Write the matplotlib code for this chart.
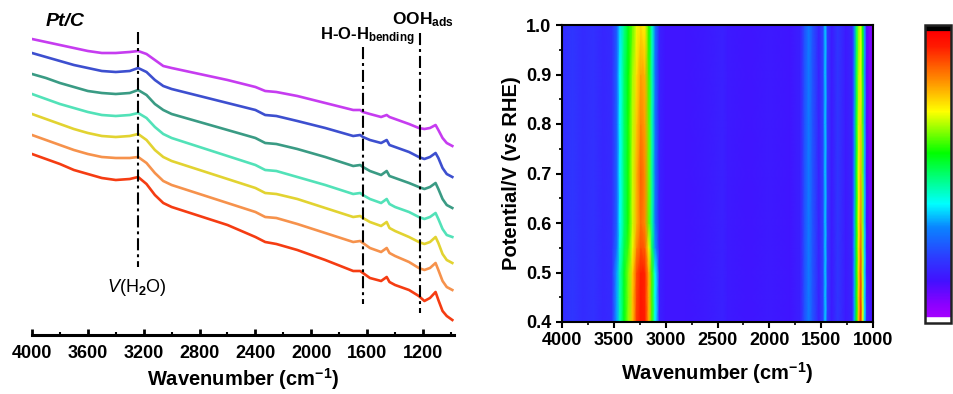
import numpy as np
import matplotlib
matplotlib.use("Agg")
import matplotlib.pyplot as plt
from matplotlib.colors import LinearSegmentedColormap
from matplotlib.ticker import MultipleLocator

plt.rcParams['font.family'] = ['Liberation Sans', 'DejaVu Sans']
plt.rcParams['font.weight'] = 'bold'
plt.rcParams['mathtext.fontset'] = 'custom'
plt.rcParams['mathtext.rm'] = 'Liberation Sans'
plt.rcParams['mathtext.it'] = 'Liberation Sans:italic:regular'
plt.rcParams['mathtext.bf'] = 'Liberation Sans:bold'

# ---- left panel: stacked spectra (y values read in picture units, top = small) ----
wn = [4000, 3900, 3800, 3700, 3600, 3500, 3400, 3300, 3240, 3180, 3120, 3060, 3000,
      2800, 2600, 2400, 2330, 2250, 2100, 1900, 1700, 1650, 1630, 1580, 1500, 1460,
      1440, 1400, 1300, 1230, 1190, 1150, 1110, 1090, 1060, 1030, 990]

purple = [39, 42, 45, 48, 51, 53, 53, 52, 51, 54, 60, 66, 68, 74, 80, 87, 91, 92, 96,
          103, 110, 110, 112, 114, 117, 115, 117, 119, 124, 128, 129, 128, 125, 130, 138, 143, 146]
blue = [53, 57, 61, 65, 68, 71, 72, 71, 68, 72, 80, 86, 89, 96, 103, 110, 115, 116, 121,
        128, 136, 135, 137, 140, 143, 140, 145, 147, 152, 157, 159, 157, 153, 158, 168, 174, 177]
teal = [74, 78, 83, 87, 91, 93, 94, 93, 90, 95, 104, 110, 114, 122, 130, 138, 143, 144, 149,
        157, 166, 165, 167, 171, 175, 171, 176, 178, 183, 187, 189, 187, 183, 189, 199, 205, 208]
aqua = [94, 99, 104, 108, 112, 115, 116, 115, 113, 118, 127, 134, 138, 147, 156, 165, 170, 171, 177,
        185, 194, 193, 195, 199, 203, 199, 204, 207, 212, 217, 219, 217, 213, 219, 229, 235, 237]
yellow = [114, 119, 124, 129, 133, 136, 137, 136, 134, 140, 150, 157, 161, 170, 179, 188, 193, 194, 199,
          208, 217, 216, 218, 222, 226, 222, 228, 231, 237, 242, 244, 242, 237, 243, 254, 260, 263]
orange = [135, 140, 145, 150, 154, 157, 158, 158, 157, 163, 173, 181, 185, 194, 203, 212, 217, 218, 224,
          233, 242, 241, 243, 248, 252, 248, 253, 256, 262, 268, 270, 268, 263, 270, 281, 287, 290]
red = [154, 159, 164, 170, 174, 178, 180, 179, 177, 184, 195, 203, 207, 216, 225, 237, 242, 244, 250,
       260, 271, 271, 273, 278, 281, 277, 282, 285, 290, 296, 301, 298, 292, 300, 311, 316, 320]

curves = [purple, blue, teal, aqua, yellow, orange, red]
curve_colors = ['#c63cf0', '#3d4fcf', '#3a9b84', '#52e2b8', '#e2d331', '#f6924c', '#f53c12']

# marker lines: (wavenumber, top, bottom)
marker_wn = [3240, 1632, 1222]
marker_top = [32, 47, 33]
marker_bottom = [267, 304, 313]

# ---- right panel: contour map ----
map_wn = [4000, 3900, 3800, 3700, 3600, 3520, 3470, 3440, 3400, 3360, 3320, 3280, 3240, 3200,
          3160, 3130, 3100, 3060, 3000, 2800, 2600, 2450, 2400, 2200, 2000, 1800, 1700, 1660,
          1620, 1580, 1520, 1480, 1460, 1440, 1400, 1340, 1260, 1200, 1180, 1160, 1140, 1120,
          1100, 1080, 1060, 1030, 1000]
potential = [0.4, 0.45, 0.5, 0.55, 0.6, 0.7, 0.8, 0.9, 1.0]

bg_left = [.19, .21, .19, .20, .18, .19]
bg_mid = [.17, .15, .15, .16, .17, .16, .15, .16, .15, .17, .25, .31, .25, .17, .24, .37, .22, .16, .21, .16, .18]
band_3250 = [
    [.34, .45, .56, .65, .76, .90, .94, .93, .78, .60, .40],   # 0.40
    [.34, .45, .55, .64, .76, .89, .94, .92, .78, .60, .40],   # 0.45
    [.34, .45, .55, .64, .75, .88, .93, .92, .78, .60, .40],   # 0.50
    [.30, .42, .52, .60, .70, .82, .88, .86, .70, .50, .33],   # 0.55
    [.28, .40, .50, .58, .68, .78, .85, .82, .62, .46, .30],   # 0.60
    [.28, .40, .50, .58, .68, .78, .86, .82, .63, .46, .30],   # 0.70
    [.28, .40, .50, .58, .67, .76, .83, .80, .62, .45, .30],   # 0.80
    [.28, .40, .50, .57, .66, .74, .80, .78, .60, .45, .30],   # 0.90
    [.27, .38, .48, .56, .62, .70, .74, .72, .58, .44, .30],   # 1.00
]
band_1130 = [
    [.34, .56, .76, .92, .70, .38, .18, .16, .14],
    [.34, .56, .75, .90, .69, .38, .17, .15, .13],
    [.34, .56, .74, .88, .68, .38, .16, .14, .12],
    [.34, .56, .73, .85, .67, .38, .15, .12, .10],
    [.34, .56, .72, .82, .66, .37, .14, .10, .09],
    [.33, .55, .70, .78, .64, .36, .13, .09, .08],
    [.33, .54, .68, .75, .62, .35, .12, .08, .08],
    [.32, .52, .66, .72, .60, .34, .12, .08, .08],
    [.32, .50, .64, .70, .58, .34, .12, .08, .08],
]
intensity = np.array([bg_left + b1 + bg_mid + b2 for b1, b2 in zip(band_3250, band_1130)])

cmap = LinearSegmentedColormap.from_list('origin_rainbow', [
    (0.0, 'white'), (0.017, 'white'), (0.02, '#a400ff'), (0.06, '#8c00ff'),
    (0.14, '#4210ff'), (0.22, '#2c3cff'), (0.32, '#0a84ff'), (0.40, '#00ffff'),
    (0.57, '#00ff00'), (0.71, '#ffff00'), (0.82, '#ff8800'), (0.93, '#ff1a00'),
    (0.978, '#ff0000'), (0.982, 'black'), (1.0, 'black')], N=512)

fig = plt.figure(figsize=(9.54, 3.94), dpi=100)

# left
ax1 = fig.add_axes([32 / 954, 59 / 394, 422 / 954, 335 / 394])
for y, c in zip(curves, curve_colors):
    ax1.plot(wn, y, color=c, lw=1.9)
for xm, t, b in zip(marker_wn, marker_top, marker_bottom):
    ax1.plot([xm, xm], [t, b], color='black', lw=1.5, dashes=[5.8, 1.9, 1.4, 1.9])
ax1.set_xlim(4000, 978)
ax1.set_ylim(335, 0)
for s in ['left', 'right', 'top']:
    ax1.spines[s].set_visible(False)
ax1.spines['bottom'].set_linewidth(2.2)
ax1.set_yticks([])
ax1.set_xticks([4000, 3600, 3200, 2800, 2400, 2000, 1600, 1200])
ax1.xaxis.set_minor_locator(MultipleLocator(200))
ax1.tick_params(axis='x', which='major', direction='in', length=4, width=2, labelsize=13, pad=7.5)
ax1.tick_params(axis='x', which='minor', direction='in', length=2, width=1.5)
ax1.set_xlabel(r'Wavenumber (cm$^{-1}$)', fontsize=14.5, fontweight='bold', labelpad=3)
ax1.patch.set_alpha(0)

ax1.text(3905, 21, 'Pt/C', fontsize=14, fontweight='bold', fontstyle='italic', va='center', ha='left')
ax1.text(1938, 40, r'H-O-H$_{\mathbf{bending}}$', fontsize=12, fontweight='bold', va='baseline', ha='left')
ax1.text(1422, 24, r'OOH$_{\mathbf{ads}}$', fontsize=12.5, fontweight='bold', va='baseline', ha='left')
ax1.text(3463, 292, r'$\mathit{V}$(H$_2$O)', fontsize=13, fontweight='normal', va='baseline', ha='left')

# right
ax2 = fig.add_axes([562 / 954, 72 / 394, 311 / 954, 297 / 394])
ax2.pcolormesh(map_wn, potential, intensity, cmap=cmap, vmin=0, vmax=1, shading='gouraud')
ax2.set_xlim(4000, 1000)
ax2.set_ylim(0.4, 1.0)
ax2.set_xticks([4000, 3500, 3000, 2500, 2000, 1500, 1000])
ax2.set_yticks([0.4, 0.5, 0.6, 0.7, 0.8, 0.9, 1.0])
ax2.xaxis.set_minor_locator(MultipleLocator(250))
ax2.yaxis.set_minor_locator(MultipleLocator(0.05))
ax2.tick_params(which='major', direction='out', length=4, width=1.5, labelsize=13)
ax2.tick_params(which='minor', direction='out', length=2.5, width=1.2)
for s in ax2.spines.values():
    s.set_linewidth(1.5)
ax2.set_xlabel(r'Wavenumber (cm$^{-1}$)', fontsize=14.5, fontweight='bold', labelpad=8)
ax2.set_ylabel('Potential/V (vs RHE)', fontsize=14.5, fontweight='bold', labelpad=4)

# colorbar
cax = fig.add_axes([925 / 954, 71 / 394, 26 / 954, 298 / 394])
sm = matplotlib.cm.ScalarMappable(cmap=cmap, norm=plt.Normalize(0, 1))
cb = fig.colorbar(sm, cax=cax)
cb.set_ticks([])
cb.outline.set_linewidth(1.8)
cb.outline.set_edgecolor('#222222')

fig.savefig('out.png', dpi=100)
